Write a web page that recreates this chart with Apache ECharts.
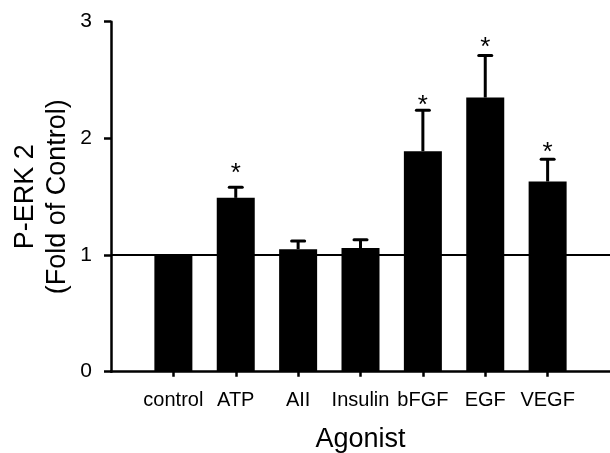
<!DOCTYPE html>
<html>
<head>
<meta charset="utf-8">
<script src="https://cdn.jsdelivr.net/npm/echarts@6/dist/echarts.min.js"></script>
<style>
  html, body { margin: 0; padding: 0; background: #fff; }
  #chart { width: 610px; height: 453px; }
</style>
</head>
<body>
<div id="chart"></div>
<script>
// agonists on the x axis
var agonists = ["control", "ATP", "AII", "Insulin", "bFGF", "EGF", "VEGF"];
// mean P-ERK 2, fold of control
var means = [1.0, 1.49, 1.05, 1.06, 1.89, 2.35, 1.63];
// upper error (SEM)
var errors = [0, 0.09, 0.07, 0.07, 0.35, 0.36, 0.19];
// asterisk heights (null = not significant)
var stars = [null, 1.74, null, null, 2.32, 2.82, 1.92];
var yTicks = [0, 1, 2, 3];

var font = "'Liberation Sans', Arial, sans-serif";

// pad with an empty slot on each side so categories sit on tick points
var cats = [""].concat(agonists, [""]);
var barData = [null].concat(means, [null]);
var errData = agonists.map(function (a, i) {
  return [i + 1, means[i], errors[i]];
}).filter(function (d) { return d[2] > 0; });
var starData = [];
stars.forEach(function (s, i) {
  if (s !== null) starData.push([i + 1, s]);
});

var myChart = echarts.init(document.getElementById("chart"));

var option = {
  animation: false,
  grid: { left: 111, right: 0, top: 21.7, bottom: 81.3, outerBoundsMode: "none", containLabel: false },
  // y axis title, two rotated lines
  graphic: [
    {
      type: "text",
      x: 42,
      y: 196.7,
      rotation: Math.PI / 2,
      style: {
        text: "P-ERK 2\n(Fold of Control)",
        fontFamily: font,
        fontSize: 27,
        lineHeight: 32,
        fill: "#000",
        align: "center",
        verticalAlign: "middle"
      }
    }
  ],
  xAxis: {
    type: "category",
    data: cats,
    boundaryGap: false,
    name: "Agonist",
    nameLocation: "middle",
    nameGap: 54,
    nameTextStyle: { fontFamily: font, fontSize: 27, color: "#000" },
    axisLine: { lineStyle: { color: "#000", width: 2.5 } },
    axisTick: {
      length: 5,
      lineStyle: { color: "#000", width: 2.5 },
      interval: function (idx, val) { return val !== ""; }
    },
    axisLabel: {
      interval: 0,
      margin: 19,
      fontFamily: font,
      fontSize: 20,
      color: "#000"
    },
    splitLine: { show: false }
  },
  yAxis: {
    type: "value",
    min: yTicks[0],
    max: yTicks[yTicks.length - 1],
    interval: 1,
    axisLine: { show: true, lineStyle: { color: "#000", width: 2.5 } },
    axisTick: { show: true, length: 7, lineStyle: { color: "#000", width: 2.5 } },
    axisLabel: { margin: 19, fontFamily: font, fontSize: 21, color: "#000" },
    splitLine: { show: false }
  },
  series: [
    {
      name: "P-ERK 2",
      type: "bar",
      data: barData,
      barWidth: 38,
      itemStyle: { color: "#000" },
      markLine: {
        silent: true,
        symbol: "none",
        label: { show: false },
        lineStyle: { color: "#000", width: 2, type: "solid" },
        data: [{ yAxis: 1 }]
      }
    },
    {
      name: "error",
      type: "custom",
      data: errData,
      z: 3,
      renderItem: function (params, api) {
        var x = api.value(0);
        var m = api.value(1);
        var e = api.value(2);
        var base = api.coord([x, m]);
        var top = api.coord([x, m + e]);
        var half = 6.5;
        return {
          type: "group",
          children: [
            {
              type: "line",
              shape: { x1: base[0], y1: base[1], x2: top[0], y2: top[1] },
              style: { stroke: "#000", lineWidth: 3 }
            },
            {
              type: "line",
              shape: { x1: top[0] - half, y1: top[1], x2: top[0] + half, y2: top[1] },
              style: { stroke: "#000", lineWidth: 3, lineCap: "round" }
            }
          ]
        };
      }
    },
    {
      name: "significance",
      type: "custom",
      data: starData,
      z: 3,
      renderItem: function (params, api) {
        var p = api.coord([api.value(0), api.value(1)]);
        return {
          type: "text",
          x: p[0],
          y: p[1] + 5,
          style: {
            text: "*",
            fontFamily: font,
            fontSize: 26,
            fill: "#000",
            align: "center",
            verticalAlign: "middle"
          }
        };
      }
    }
  ]
};

myChart.setOption(option);
</script>
</body>
</html>
